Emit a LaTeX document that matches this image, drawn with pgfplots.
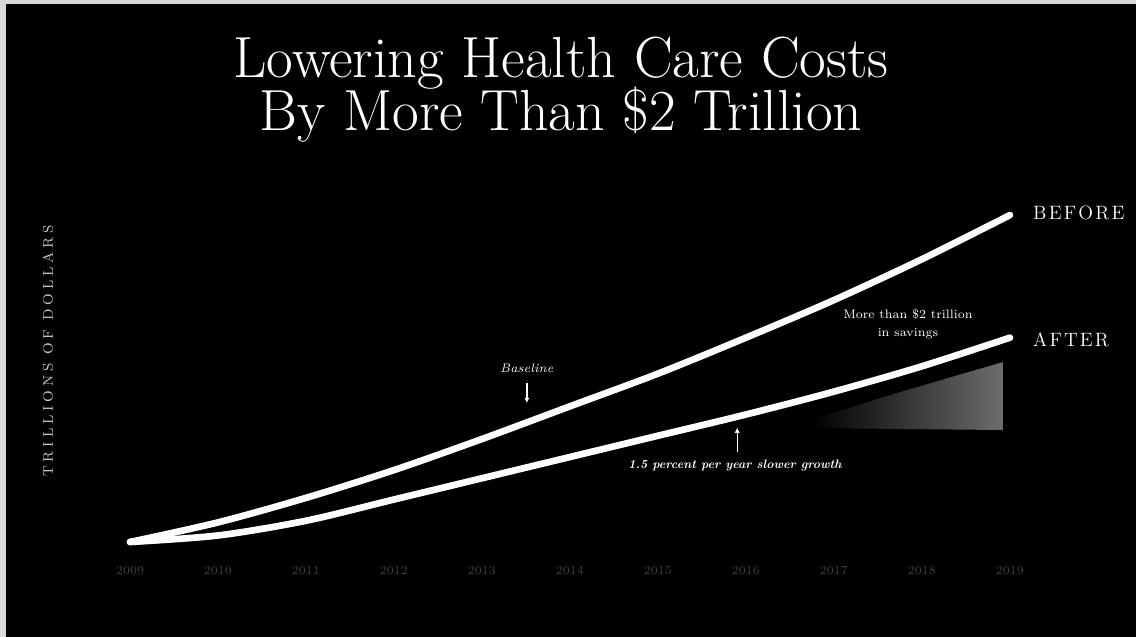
\documentclass[border=0pt]{standalone}
\usepackage{fontspec}
\usepackage{pgfplots}
\pgfplotsset{compat=1.18}
\usetikzlibrary{arrows.meta}
\newcommand{\titlefont}{\fontsize{33}{30.5}\selectfont\lineskiplimit=-30pt\relax}
\makeatletter
\newcommand{\spaced}[2]{\def\sp@k{#1}\sp@loop#2\@nil}
\def\sp@loop#1#2\@nil{#1\ifx\relax#2\relax\else\kern\sp@k\sp@loop#2\@nil\fi}
\makeatother
\begin{document}
\begin{tikzpicture}
\useasboundingbox (0,0) rectangle (22.72,12.74);
\fill[black] (0,0) rectangle (22.72,12.74);
\fill[white!85!black] (0,0) rectangle (0.12,12.74);
\fill[white!85!black] (0,12.65) rectangle (22.72,12.74);
% title
\node[align=center, text=white, inner sep=0pt, font=\titlefont] at (11.22,10.95) {Lowering Health Care Costs\\By More Than \$2 Trillion};
% y label
\node[rotate=90, text=white!80!black, font=\fontsize{8}{9}\selectfont] at (0.96,5.72) {\spaced{2.2pt}{TRILLIONS}\hspace{5pt}\spaced{2.2pt}{OF}\hspace{5pt}\spaced{2.2pt}{DOLLARS}};
\begin{axis}[at={(2.6cm,1.54cm)}, anchor=south west, scale only axis,
  width=17.6cm, height=7.2cm,
  xmin=2009, xmax=2019, ymin=2.39, ymax=4.592,
  axis line style={draw=none}, ytick=\empty,
  xtick={2009,...,2019}, major tick length=0pt,
  /pgf/number format/1000 sep={},
  /pgf/number format/assume math mode=true,
  xticklabel style={font=\fontsize{7}{8}\selectfont, text=white!25!black},
  clip=false]
% savings shading
\addplot[draw=none, left color=black, right color=white!50!black, fill opacity=0.85]
  coordinates {(2016.73,3.246) (2017.75,3.417) (2018.92,3.601) (2018.92,3.185) (2016.73,3.197)} -- cycle;
% BEFORE
\addplot[white, line width=3.8pt, smooth, line cap=round] coordinates {
 (2009,2.50) (2010,2.62) (2011,2.77) (2012,2.94) (2013,3.13) (2014,3.33)
 (2015,3.53) (2016,3.75) (2017,3.98) (2018,4.23) (2019,4.50)};
% AFTER
\addplot[white, line width=3.8pt, smooth, line cap=round] coordinates {
 (2009,2.50) (2010,2.54) (2011,2.63) (2012,2.76) (2013,2.89) (2014,3.02)
 (2015,3.15) (2016,3.28) (2017,3.42) (2018,3.575) (2019,3.75)};
% labels
\node[anchor=west, inner sep=0, text=white, font=\fontsize{11}{12}\selectfont] at (axis cs:2019.26,4.512) {\spaced{1.25pt}{BEFORE}};
\node[anchor=west, inner sep=0, text=white, font=\fontsize{11}{12}\selectfont] at (axis cs:2019.26,3.735) {\spaced{1.2pt}{AFTER}};
\node[text=white, font=\fontsize{7}{8}\itshape\selectfont] at (axis cs:2013.51,3.564) {Baseline};
\draw[white, line width=0.8pt, -{Latex[length=3pt,width=3pt]}] (axis cs:2013.51,3.472) -- (axis cs:2013.51,3.35);
\node[text=white, font=\fontsize{7}{8}\bfseries\itshape\selectfont] at (axis cs:2015.875,2.971) {1.5 percent per year slower growth};
\draw[white, line width=0.8pt, -{Latex[length=3pt,width=3pt]}] (axis cs:2015.9,3.05) -- (axis cs:2015.9,3.20);
\node[text=white, align=center, font=\fontsize{7}{10}\selectfont] at (axis cs:2017.84,3.833) {More than \$2 trillion\\in savings};
\end{axis}
\end{tikzpicture}
\end{document}
